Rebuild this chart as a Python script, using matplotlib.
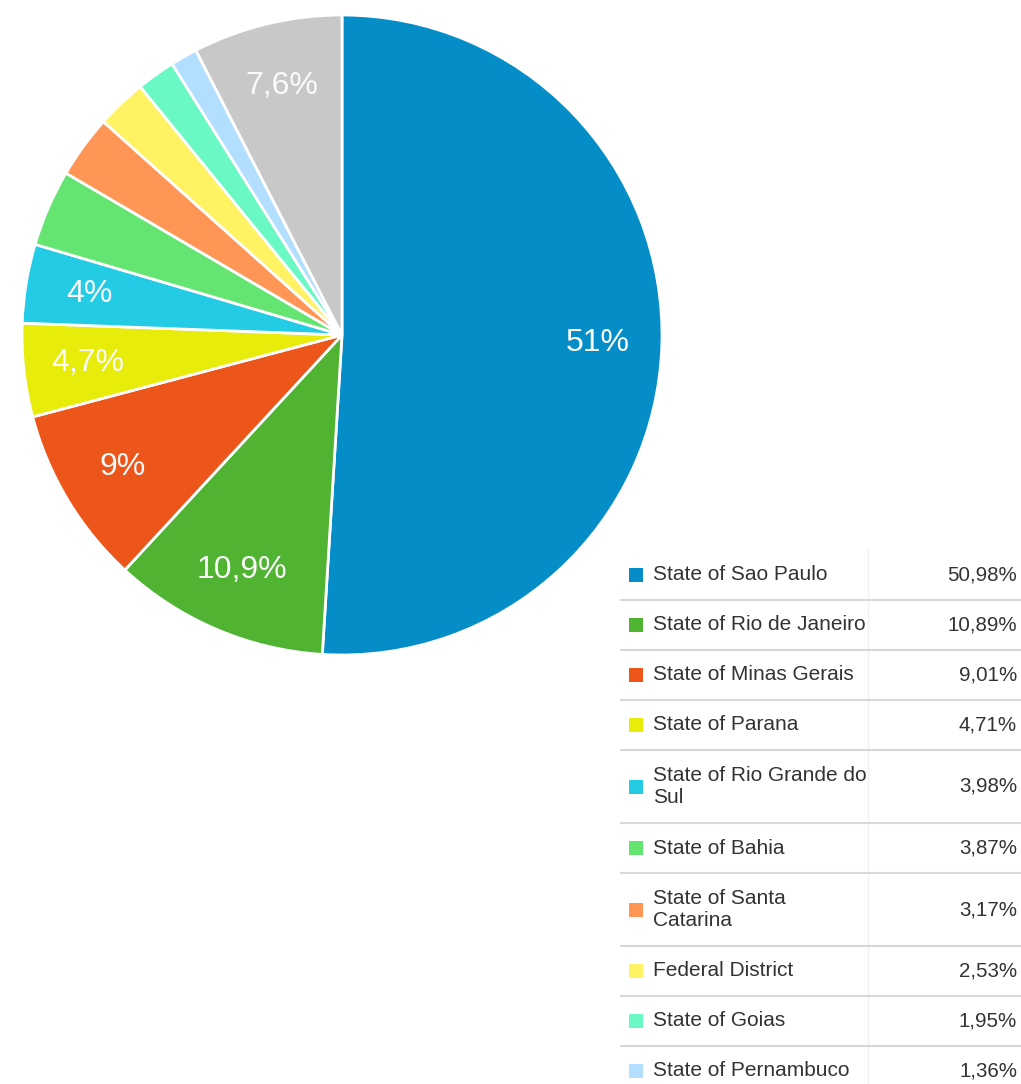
import matplotlib.pyplot as plt
from matplotlib.patches import Rectangle
import numpy as np

plt.rcParams['font.family'] = ['Liberation Sans', 'DejaVu Sans']

# visits by state, percent of total
states = [
    "State of Sao Paulo",
    "State of Rio de Janeiro",
    "State of Minas Gerais",
    "State of Parana",
    "State of Rio Grande do\nSul",
    "State of Bahia",
    "State of Santa\nCatarina",
    "Federal District",
    "State of Goias",
    "State of Pernambuco",
]
shares = [50.98, 10.89, 9.01, 4.71, 3.98, 3.87, 3.17, 2.53, 1.95, 1.36]
other_share = round(100 - sum(shares), 2)

colors = ["#058DC7", "#50B432", "#ED561B", "#E8EC0A", "#24CBE5",
          "#64E572", "#FF9655", "#FFF263", "#6AF9C4", "#B2DEFF"]
other_color = "#C8C8C8"


def pct_label(v):
    s = f"{v + 1e-9:.1f}"
    if s.endswith(".0"):
        s = s[:-2]
    return s.replace(".", ",") + "%"


W, H = 1021, 1084
fig = plt.figure(figsize=(W / 100, H / 100), dpi=100)

# pie: centre (342, 335) px, radius 320 px
cx, cy, r = 342, 335, 320
ax = fig.add_axes([(cx - r) / W, (H - cy - r) / H, 2 * r / W, 2 * r / H])
values = shares + [other_share]
wedges, _ = ax.pie(values, colors=colors + [other_color], startangle=90,
                   counterclock=False, radius=1,
                   wedgeprops=dict(edgecolor="white", linewidth=2))
ax.set_xlim(-1, 1)
ax.set_ylim(-1, 1)
ax.axis("off")

for w, v in zip(wedges, values):
    if v < 3.9:
        continue
    ang = np.deg2rad((w.theta1 + w.theta2) / 2)
    ax.text(0.8 * np.cos(ang), 0.8 * np.sin(ang), pct_label(v),
            ha="center", va="center", color="#fafafa", fontsize=23)

# legend table in pixel coordinates
lg = fig.add_axes([0, 0, 1, 1], zorder=-1)
lg.set_xlim(0, W)
lg.set_ylim(H, 0)
lg.axis("off")

y = 550
lg.plot([868, 868], [y, H], color="#f2f2f2", lw=1)
for name, v, c in zip(states, shares, colors):
    h = 73 if "\n" in name else 50
    mid = y + h / 2
    lg.add_patch(Rectangle((629, mid - 7), 14, 14, color=c, lw=0))
    lg.text(653, mid, name, ha="left", va="center", fontsize=15,
            color="#333333", linespacing=1.2)
    lg.text(1017, mid, f"{v:.2f}".replace(".", ",") + "%", ha="right",
            va="center", fontsize=14.8, color="#333333")
    y += h
    if y < H:
        lg.plot([621, W], [y, y], color="#d8d8d8", lw=1.5)

fig.savefig("out.png", dpi=100, facecolor="white")
